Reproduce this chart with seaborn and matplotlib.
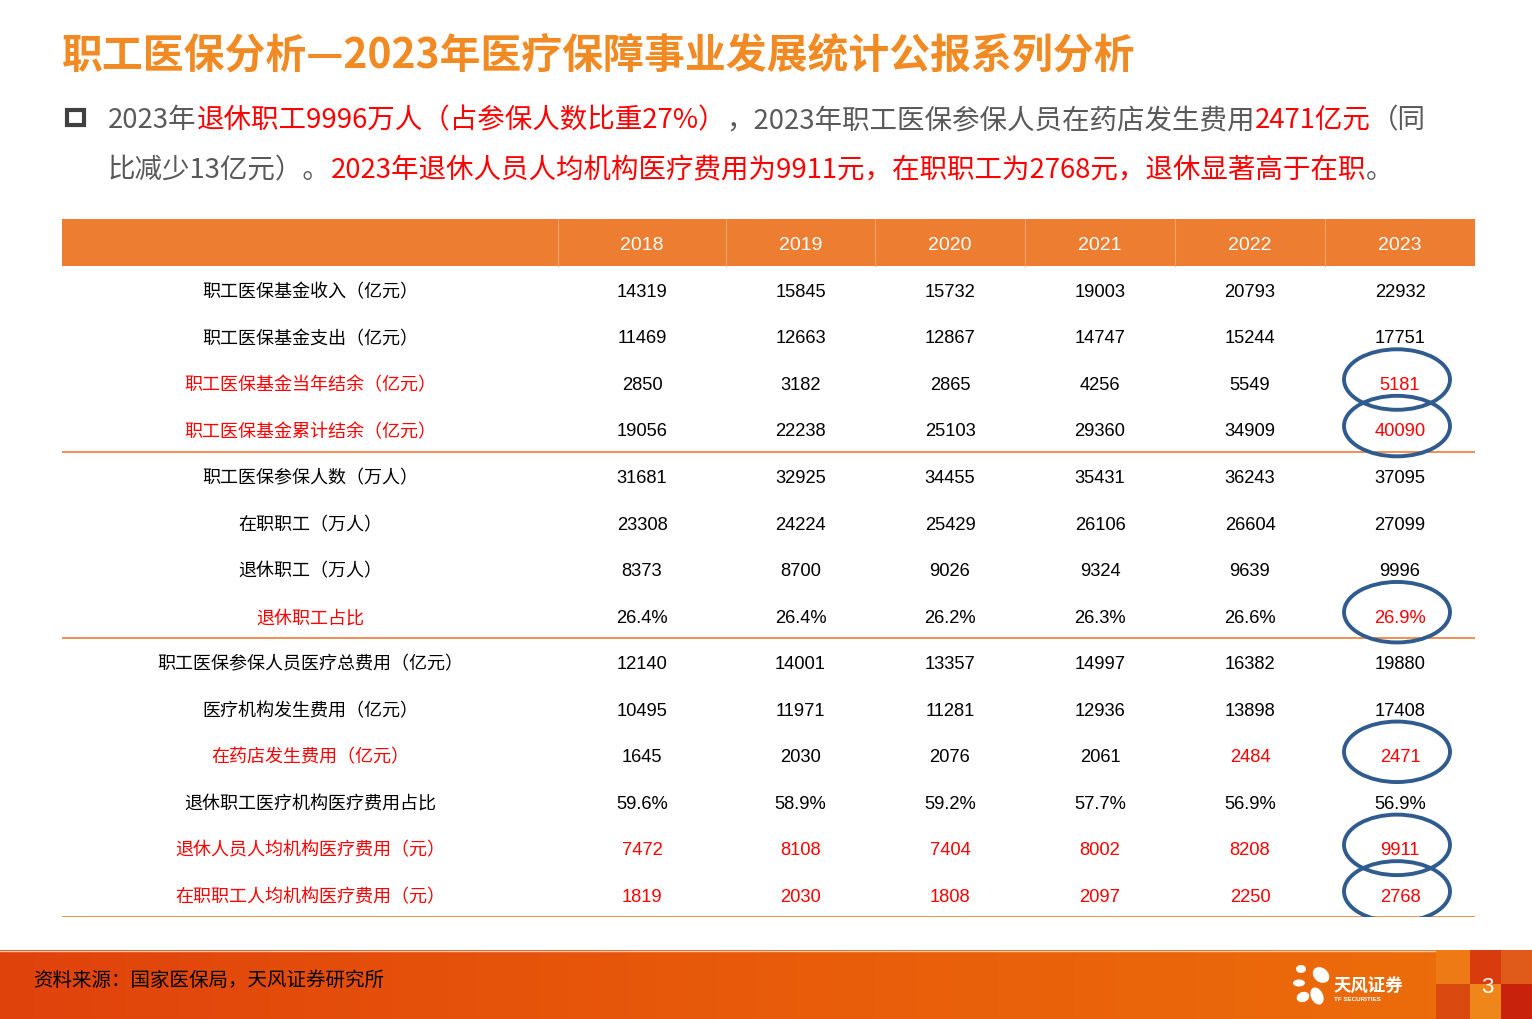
import matplotlib
matplotlib.use("Agg")
import matplotlib.pyplot as plt
from matplotlib.patches import Rectangle, Ellipse
import matplotlib.colors as mcolors
import seaborn as sns
import numpy as np

# ---- data ----
years = ["2018", "2019", "2020", "2021", "2022", "2023"]

row_labels = [
    "职工医保基金收入（亿元）",
    "职工医保基金支出（亿元）",
    "职工医保基金当年结余（亿元）",
    "职工医保基金累计结余（亿元）",
    "职工医保参保人数（万人）",
    "在职职工（万人）",
    "退休职工（万人）",
    "退休职工占比",
    "职工医保参保人员医疗总费用（亿元）",
    "医疗机构发生费用（亿元）",
    "在药店发生费用（亿元）",
    "退休职工医疗机构医疗费用占比",
    "退休人员人均机构医疗费用（元）",
    "在职职工人均机构医疗费用（元）",
]

fund_income = [14319, 15845, 15732, 19003, 20793, 22932]
fund_expense = [11469, 12663, 12867, 14747, 15244, 17751]
fund_balance_year = [2850, 3182, 2865, 4256, 5549, 5181]
fund_balance_total = [19056, 22238, 25103, 29360, 34909, 40090]
insured_total = [31681, 32925, 34455, 35431, 36243, 37095]
insured_active = [23308, 24224, 25429, 26106, 26604, 27099]
insured_retired = [8373, 8700, 9026, 9324, 9639, 9996]
retired_share = [26.4, 26.4, 26.2, 26.3, 26.6, 26.9]
total_cost = [12140, 14001, 13357, 14997, 16382, 19880]
inst_cost = [10495, 11971, 11281, 12936, 13898, 17408]
pharmacy_cost = [1645, 2030, 2076, 2061, 2484, 2471]
retired_inst_share = [59.6, 58.9, 59.2, 57.7, 56.9, 56.9]
retired_per_capita = [7472, 8108, 7404, 8002, 8208, 9911]
active_per_capita = [1819, 2030, 1808, 2097, 2250, 2768]

table_rows = [fund_income, fund_expense, fund_balance_year, fund_balance_total,
              insured_total, insured_active, insured_retired, retired_share,
              total_cost, inst_cost, pharmacy_cost, retired_inst_share,
              retired_per_capita, active_per_capita]
percent_rows = {7, 11}

# which labels / cells are red, which cells are circled
red_label_rows = {2, 3, 7, 10, 12, 13}
red_cells = {(2, 5), (3, 5), (7, 5), (10, 4), (10, 5)} | {(12, c) for c in range(6)} | {(13, c) for c in range(6)}
circled_rows = [2, 3, 7, 10, 12, 13]
section_breaks = [4, 8, 14]   # orange rule after these many body rows

title = "职工医保分析—2023年医疗保障事业发展统计公报系列分析"
bullet_line1 = [("2023年", "g"), ("退休职工9996万人（占参保人数比重27%）", "r"),
                ("，2023年职工医保参保人员在药店发生费用", "g"), ("2471亿元", "r"), ("（同", "g")]
bullet_line2 = [("比减少13亿元）。", "g"),
                ("2023年退休人员人均机构医疗费用为9911元，在职职工为2768元，退休显著高于在职", "r"),
                ("。", "g")]
source_note = "资料来源：国家医保局，天风证券研究所"

# ---- style ----
ORANGE = "#ED7D31"
TITLE_ORANGE = "#F18A22"
RED = "#FF0000"
GRAY = "#595959"
BLUE = "#2F5B8E"

sns.set_theme(style="white")
plt.rcParams["font.family"] = ["Noto Sans CJK SC", "DejaVu Sans"]
CJK = ["Noto Sans CJK SC", "DejaVu Sans"]
NUM = ["Liberation Sans", "Noto Sans CJK SC"]

W, H = 1532, 1020
fig = plt.figure(figsize=(W / 100, H / 100), dpi=100)
fig.patch.set_facecolor("white")

# background axes in pixel units
bg = fig.add_axes([0, 0, 1, 1])
bg.set_xlim(0, W)
bg.set_ylim(H, 0)
bg.axis("off")

bg.text(62, 55, title, color=TITLE_ORANGE, fontsize=29.4, fontweight="bold",
        family=CJK, va="center", ha="left")

# bullet marker
bg.add_patch(Rectangle((67, 111), 17, 15, facecolor="none", edgecolor="#404040", lw=3.0))


def write_line(y, segments):
    colors = {"g": GRAY, "r": RED}
    prev = None
    for seg, c in segments:
        if prev is None:
            prev = bg.text(108, y, seg, color=colors[c], fontsize=19.8, family=CJK,
                           fontweight="light", va="center", ha="left")
        else:
            prev = bg.annotate(seg, xy=(1, 0), xycoords=prev, color=colors[c], fontsize=19.8,
                               family=CJK, fontweight="light", va="bottom", ha="left")


write_line(121, bullet_line1)
write_line(171, bullet_line2)

# ---- table ----
tbl_left, tbl_right, tbl_top, tbl_bottom = 62, 1475, 220, 918
col_edges = [0, 496, 664, 813, 963, 1113, 1263, 1413]
n_rows = len(row_labels) + 1
tab = fig.add_axes([tbl_left / W, 1 - tbl_bottom / H, (tbl_right - tbl_left) / W,
                    (tbl_bottom - tbl_top) / H])
tab.set_xlim(0, col_edges[-1])
tab.set_ylim(n_rows, 0)
tab.axis("off")
col_centers = [(a + b) / 2 for a, b in zip(col_edges[:-1], col_edges[1:])]
dy = 0.055  # nudge text to optical centre

tab.axhspan(0, 1, color=ORANGE, lw=0)
for e in col_edges[1:-1]:
    tab.plot([e, e], [0, 1], color="#F3A36B", lw=0.8)
for yr, xc in zip(years, col_centers[1:]):
    tab.text(xc, 0.5 + dy, yr, color="white", fontsize=14, family=NUM, ha="center", va="center")

for i, (lab, vals) in enumerate(zip(row_labels, table_rows)):
    yc = i + 1.5 + dy
    tab.text(col_centers[0], yc, lab, fontsize=13, family=CJK, ha="center", va="center",
             color=RED if i in red_label_rows else "black")
    for j, v in enumerate(vals):
        s = f"{v:.1f}%" if i in percent_rows else f"{v:d}"
        tab.text(col_centers[j + 1], yc, s, fontsize=13.2, family=NUM, ha="center", va="center",
                 color=RED if (i, j) in red_cells else "black")

for b in section_breaks:
    tab.axhline(b + 1, color=ORANGE, lw=1.2)

for i in circled_rows:
    tab.add_patch(Ellipse((col_centers[-1] - 3, i + 1.45), 106, 1.3, facecolor="none",
                          edgecolor=BLUE, lw=2.8, zorder=5))

# ---- footer ----
grad = np.linspace(0, 1, 256)
cmap = mcolors.LinearSegmentedColormap.from_list("foot", ["#E0420C", "#E85A0A", "#EC6C0A"])
bg.imshow(grad[None, :], cmap=cmap, extent=[0, 1436, H, 951], aspect="auto", zorder=1)
bg.plot([0, 1436], [951.5, 951.5], color="#F2C9B5", lw=1, zorder=2)
blocks = [(1436, 951, 34, 34, "#EE7A16"), (1436, 985, 34, 35, "#DA4A10"),
          (1470, 951, 31, 34, "#D83C0E"), (1470, 985, 31, 35, "#EE8619"),
          (1501, 951, 31, 34, "#E05A1A"), (1501, 985, 31, 35, "#C8220C")]
for x0, y0, w, h, c in blocks:
    bg.add_patch(Rectangle((x0, y0), w, h, facecolor=c, lw=0, zorder=2))

bg.text(33, 980, source_note, fontsize=14, family=CJK, color="black", va="center", ha="left",
        zorder=3)

# logo petals
petals = [(1301, 970, 10, 8, 0), (1299, 984, 12, 7, 0), (1303, 998, 13, 10, -20),
          (1321, 976, 18, 14, 40), (1317, 997, 12, 18, -25)]
for px, py, pw, ph, ang in petals:
    bg.add_patch(Ellipse((px, py), pw, ph, angle=ang, facecolor="white", lw=0, zorder=3))
bg.text(1333, 987, "天风证券", fontsize=12.5, family=CJK, fontweight="bold", color="white",
        va="center", ha="left", zorder=3)
bg.text(1334, 1000, "TF SECURITIES", fontsize=4.5, family=NUM, fontweight="bold", color="white",
        va="center", ha="left", zorder=3)
bg.text(1487, 988, "3", fontsize=16, family=NUM, color="white", va="center", ha="center", zorder=3)

fig.savefig("out.png", dpi=100)
